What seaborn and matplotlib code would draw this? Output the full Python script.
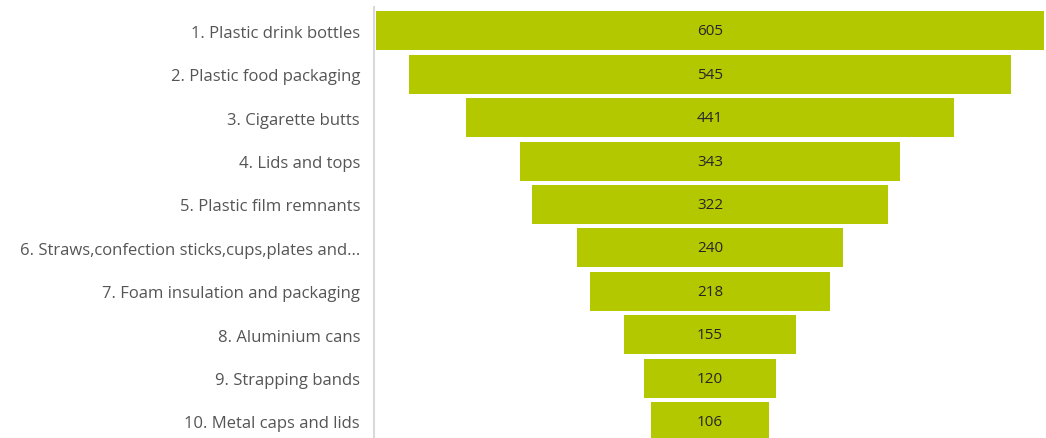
import matplotlib
matplotlib.use("Agg")
import matplotlib.pyplot as plt
import seaborn as sns
import pandas as pd

categories = [
    "1. Plastic drink bottles",
    "2. Plastic food packaging",
    "3. Cigarette butts",
    "4. Lids and tops",
    "5. Plastic film remnants",
    "6. Straws,confection sticks,cups,plates and...",
    "7. Foam insulation and packaging",
    "8. Aluminium cans",
    "9. Strapping bands",
    "10. Metal caps and lids",
]
counts = [605, 545, 441, 343, 322, 240, 218, 155, 120, 106]

df = pd.DataFrame({"item": categories, "count": counts})

sns.set_theme(style="white")
plt.rcParams["font.family"] = ["Open Sans", "DejaVu Sans"]

W, H = 1046, 439
fig = plt.figure(figsize=(W / 100, H / 100), dpi=100)
# axes in pixel terms: left 374, right 1046, top 8, extends slightly below the canvas
ax_left, ax_top, ax_h = 374, 8, 434
ax = fig.add_axes([ax_left / W, 1 - (ax_top + ax_h) / H, (W - ax_left) / W, ax_h / H])

bar_color = "#b4c800"
sns.barplot(data=df, x="count", y="item", orient="h", color=bar_color,
            saturation=1, width=0.9, linewidth=0, ax=ax)

# centre each bar on zero to form the funnel
for patch in ax.patches:
    w = patch.get_width()
    patch.set_x(-w / 2)

for i, v in enumerate(counts):
    ax.text(0, i, f"{v}", ha="center", va="center", fontsize=11, color="#262626")

ax.set_xlim(-304, 304)
ax.set_ylim(9.45, -0.55)
ax.set_xlabel("")
ax.set_ylabel("")
ax.set_xticks([])
ax.tick_params(axis="y", length=0, pad=10, labelsize=12, labelcolor="#555555")

for side in ["top", "right", "bottom"]:
    ax.spines[side].set_visible(False)
ax.spines["left"].set_color("#d9d9d9")
ax.spines["left"].set_linewidth(1.5)

fig.savefig("out.png", dpi=100)
